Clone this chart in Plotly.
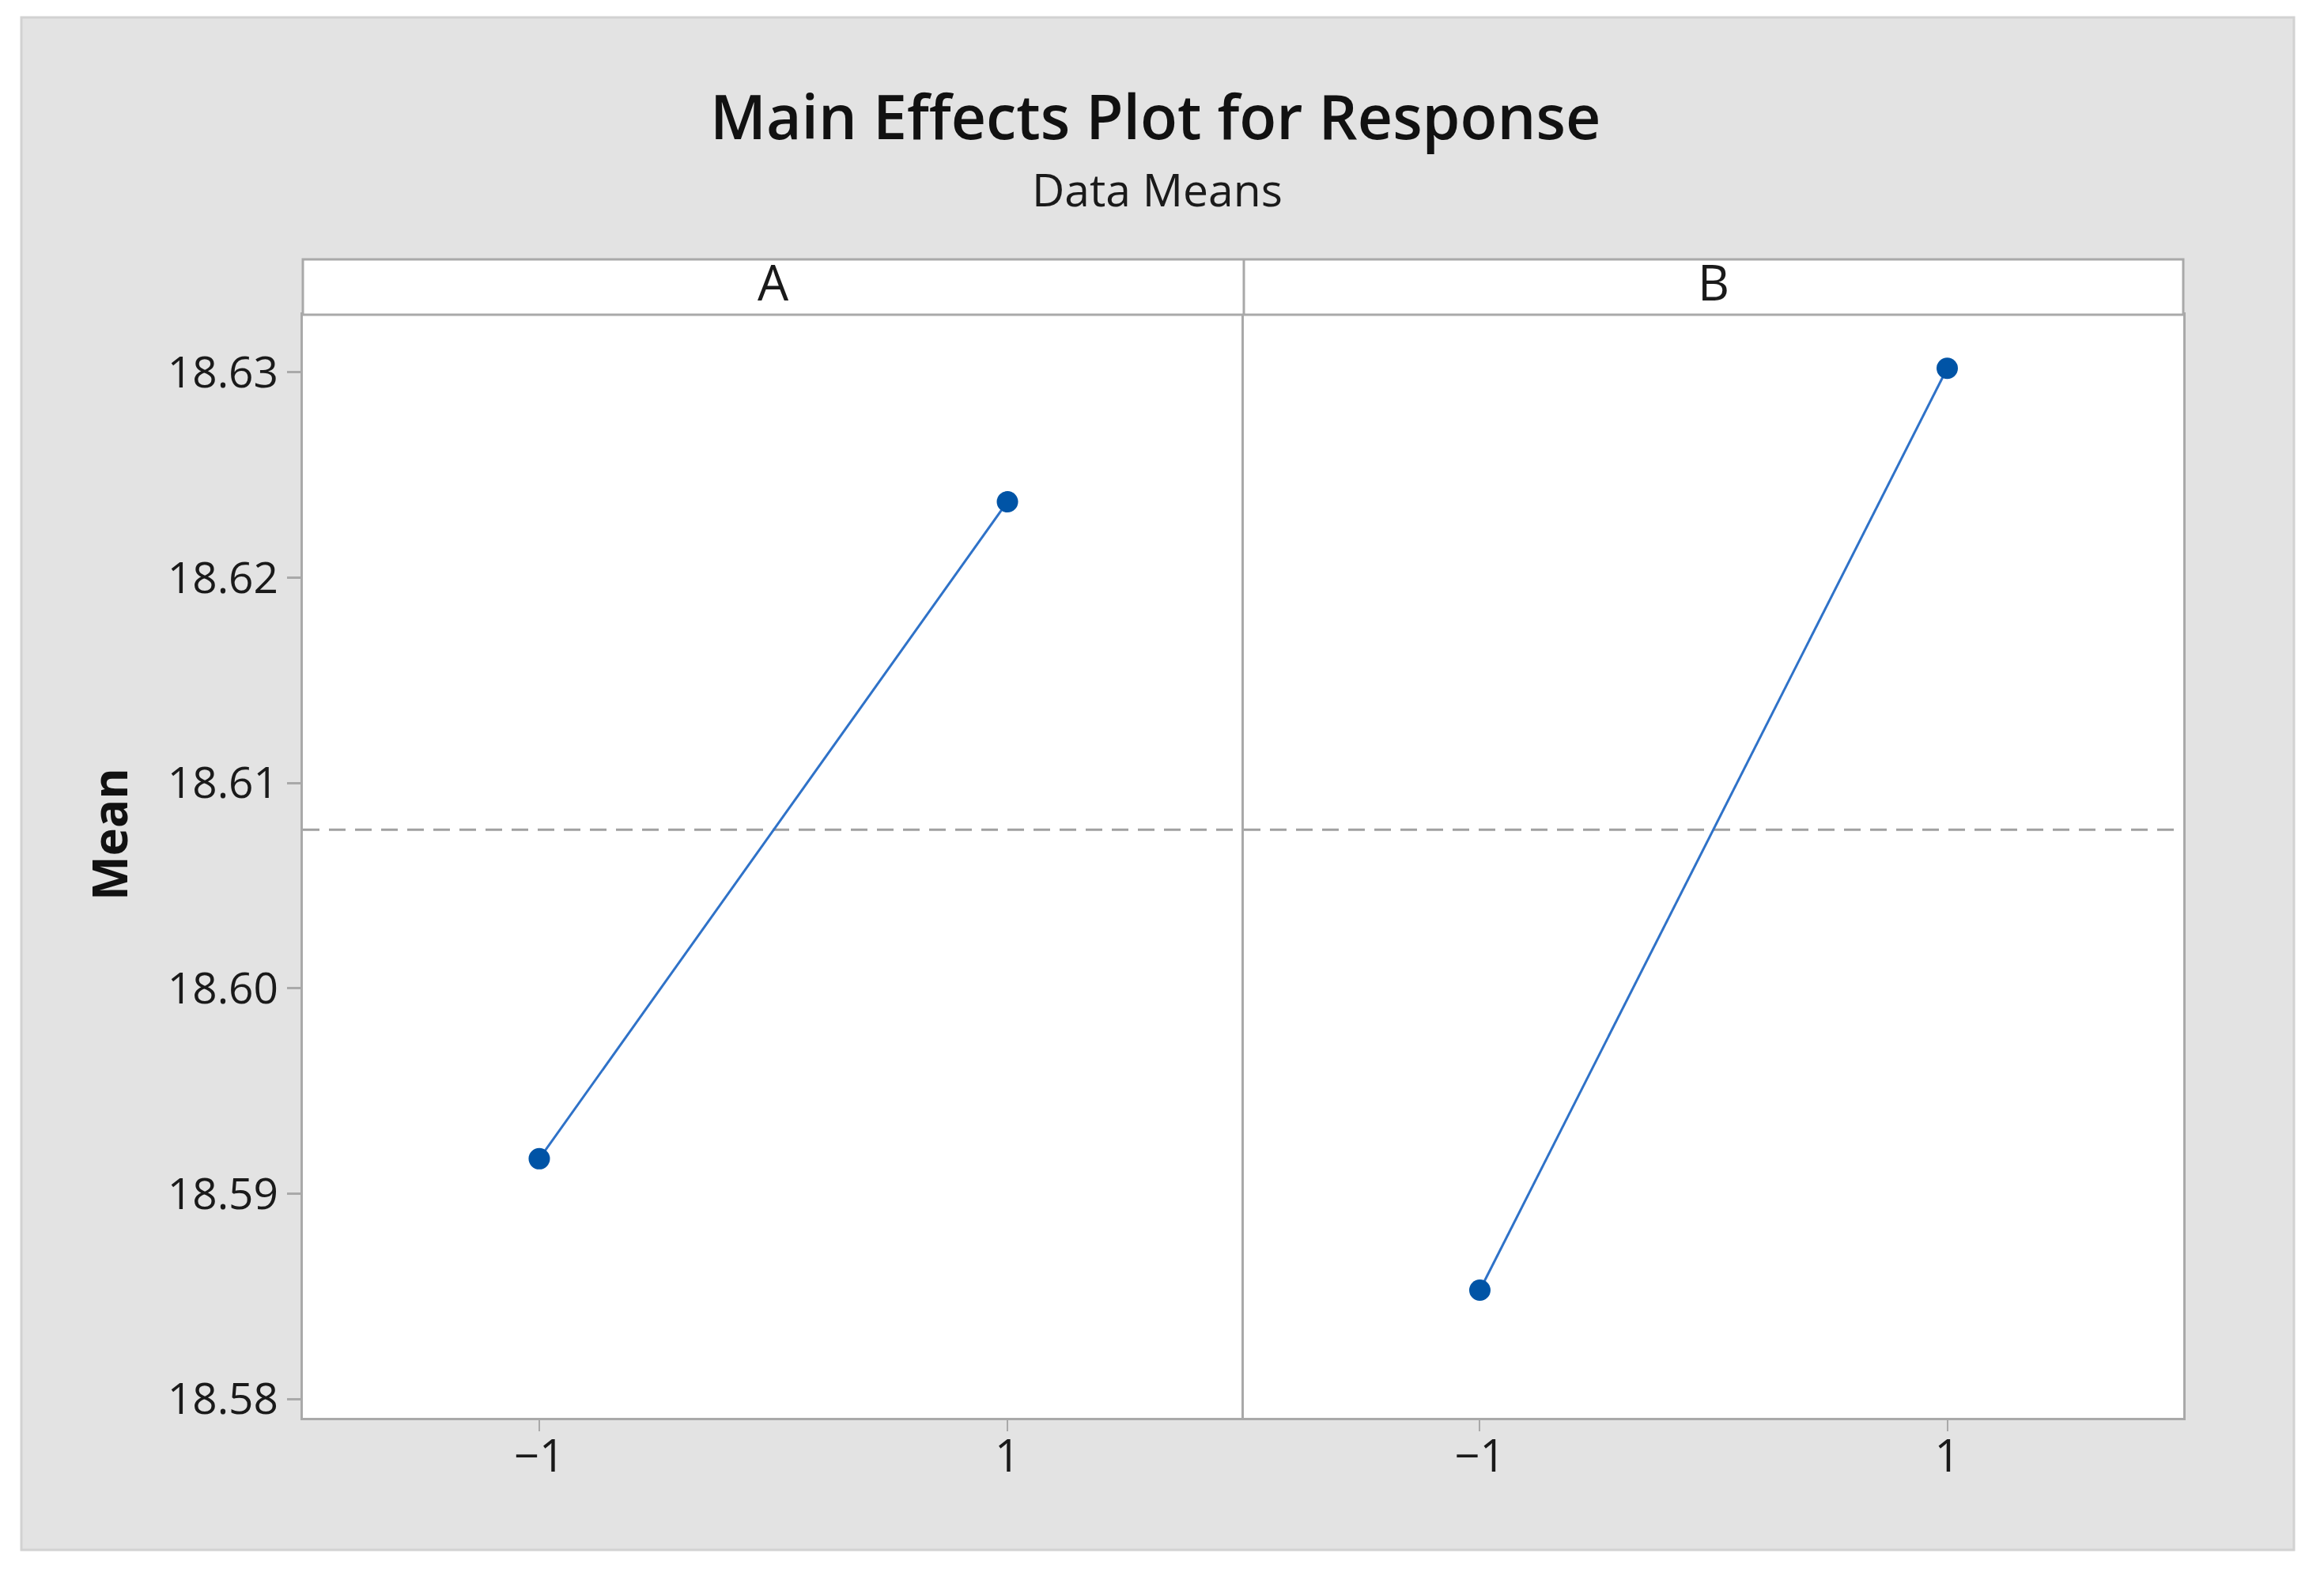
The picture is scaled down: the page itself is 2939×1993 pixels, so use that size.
import plotly.graph_objects as go
from plotly.subplots import make_subplots

# ---- data ----
factors = ["A", "B"]
levels = [-1, 1]
level_labels = ["\u22121", "1"]
means_A = [18.5917, 18.6237]
means_B = [18.5853, 18.6302]
y_ticks = [18.58, 18.59, 18.60, 18.61, 18.62, 18.63]
y_tick_labels = ["18.58", "18.59", "18.60", "18.61", "18.62", "18.63"]

all_means = means_A + means_B
grand_mean = sum(all_means) / len(all_means)

OFF = 8  # default page body margin
W, H = 2939 - 2 * OFF, 1993 - 2 * OFF
# reference pixel geometry (page coords)
PL, PR, PT, PB = 383, 2761, 328, 1793
ML, MR, MT, MB = PL - OFF, W - (PR - OFF), PT - OFF, H - (PB - OFF)
PW, PH = W - ML - MR, H - MT - MB

def px_x(p):
    return (p - OFF - ML) / PW

def px_y(p):
    return (H - MB - (p - OFF)) / PH

strip_bottom = px_y(398)
split = px_x(1573)

FONT = "Open Sans"
AXC = "#a9a9a9"
LINEC = "#2f72c8"
MARKC = "#0054a6"
PANEL = "#e3e3e3"

fig = make_subplots(rows=1, cols=2, shared_yaxes=True, horizontal_spacing=0)

for i, vals in enumerate([means_A, means_B]):
    fig.add_trace(
        go.Scatter(
            x=levels, y=vals, mode="lines+markers",
            line=dict(color=LINEC, width=3),
            marker=dict(color=MARKC, size=27, symbol="circle", line=dict(width=0)),
            showlegend=False, hoverinfo="x+y",
        ),
        row=1, col=i + 1,
    )

fig.add_hline(y=grand_mean, line=dict(color="#a0a0a0", width=3, dash="21px,12px"),
              layer="below", row=1, col="all")

xrange = [-2.01, 2.01]
yrange = [18.57908, 18.63281]

fig.update_xaxes(
    range=xrange, tickvals=levels, ticktext=level_labels,
    showgrid=False, zeroline=False, showline=True, mirror=True,
    linecolor=AXC, linewidth=3, ticks="outside", ticklen=14, tickwidth=2,
    tickcolor=AXC, tickfont=dict(family=FONT, size=56, color="#1a1a1a"),
    ticklabelstandoff=-16,
)
fig.update_xaxes(domain=[0, split], row=1, col=1)
fig.update_xaxes(domain=[split, 1], row=1, col=2)

fig.update_yaxes(
    range=yrange, domain=[0, strip_bottom], showgrid=False, zeroline=False,
    showline=True, linecolor=AXC, linewidth=3,
)
fig.update_yaxes(
    mirror=False, tickvals=y_ticks, ticktext=y_tick_labels, ticks="outside", ticklen=17,
    tickwidth=3, tickcolor=AXC, tickfont=dict(family=FONT, size=55, color="#1a1a1a"),
    row=1, col=1,
)
fig.update_yaxes(mirror=True, showticklabels=False, ticks="", row=1, col=2)

white = dict(color="white", width=0)
shapes = [
    # white page border around the gray panel
    dict(type="rect", xref="paper", yref="paper", x0=px_x(0), x1=px_x(27),
         y0=px_y(2000), y1=px_y(0), fillcolor="white", line=white, layer="above"),
    dict(type="rect", xref="paper", yref="paper", x0=px_x(2901), x1=px_x(2945),
         y0=px_y(2000), y1=px_y(0), fillcolor="white", line=white, layer="above"),
    dict(type="rect", xref="paper", yref="paper", x0=px_x(0), x1=px_x(2945),
         y0=px_y(22), y1=px_y(0), fillcolor="white", line=white, layer="above"),
    dict(type="rect", xref="paper", yref="paper", x0=px_x(0), x1=px_x(2945),
         y0=px_y(2000), y1=px_y(1960), fillcolor="white", line=white, layer="above"),
    # thin edge of the gray panel
    dict(type="rect", xref="paper", yref="paper", x0=px_x(27), x1=px_x(2901),
         y0=px_y(1960), y1=px_y(22), fillcolor="rgba(0,0,0,0)",
         line=dict(color="#d2d2d2", width=3), layer="above"),
    # strip
    dict(type="rect", xref="paper", yref="paper", x0=0, x1=1,
         y0=strip_bottom, y1=1, fillcolor="white",
         line=dict(color=AXC, width=3), layer="above"),
    dict(type="line", xref="paper", yref="paper", x0=split, x1=split,
         y0=strip_bottom, y1=1, line=dict(color=AXC, width=3), layer="above"),
]

annotations = [
    dict(text="Main Effects Plot for Response", x=px_x(1461), y=px_y(146),
         xref="paper", yref="paper", showarrow=False, xanchor="center", yanchor="middle",
         font=dict(family=FONT, size=77, color="#111111", weight=600)),
    dict(text="Data Means", x=px_x(1463), y=px_y(239),
         xref="paper", yref="paper", showarrow=False, xanchor="center", yanchor="middle",
         font=dict(family=FONT, size=57, color="#1a1a1a")),
    dict(text="Mean", x=px_x(138), y=px_y(1055), textangle=-90,
         xref="paper", yref="paper", showarrow=False, xanchor="center", yanchor="middle",
         font=dict(family=FONT, size=60, color="#111111", weight="bold")),
]
for i, f in enumerate(factors):
    cx = (0 + split) / 2 if i == 0 else (split + 1) / 2
    annotations.append(dict(text=f, x=cx, y=px_y(356), xref="paper", yref="paper",
                            showarrow=False, xanchor="center", yanchor="middle",
                            font=dict(family=FONT, size=62, color="#1a1a1a")))

fig.update_layout(
    width=W, height=H, margin=dict(l=ML, r=MR, t=MT, b=MB, pad=0),
    paper_bgcolor=PANEL, plot_bgcolor="white",
    shapes=list(fig.layout.shapes) + shapes, annotations=annotations,
    showlegend=False,
)

fig.write_html("out.html")
